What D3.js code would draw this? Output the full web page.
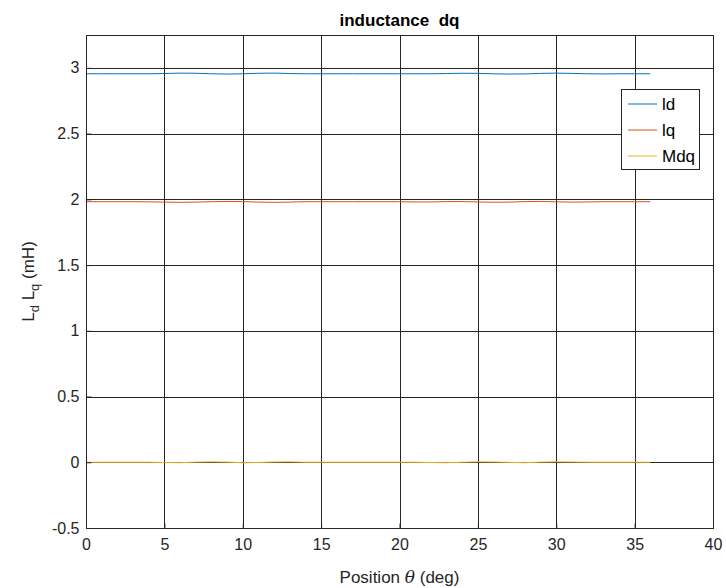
<!DOCTYPE html>
<html><head><meta charset="utf-8">
<script src="https://cdn.jsdelivr.net/npm/d3@7"></script>
<style>body{margin:0;background:#fff}svg{display:block}</style>
</head><body>
<svg id="c" width="726" height="588"></svg>
<script>
const positions = d3.range(0, 37, 1);
const ldValues = [2.955,2.955,2.955,2.955,2.955,2.957,2.960,2.959,2.955,2.953,2.955,2.959,2.960,2.957,2.955,2.955,2.955,2.955,2.955,2.955,2.955,2.955,2.955,2.957,2.959,2.958,2.955,2.953,2.954,2.958,2.960,2.958,2.955,2.954,2.955,2.955,2.955];
const lqValues = [1.982,1.982,1.982,1.982,1.981,1.979,1.977,1.979,1.982,1.984,1.983,1.979,1.977,1.979,1.982,1.982,1.982,1.982,1.982,1.982,1.982,1.980,1.980,1.983,1.983,1.980,1.978,1.979,1.983,1.984,1.981,1.979,1.980,1.982,1.982,1.982,1.982];
const mdqValues = [0,0,0,0,0,-0.002,-0.003,0.001,0.003,0.001,-0.003,-0.002,0.002,0.003,0,0,0,0,0,0,0,0,-0.002,-0.003,0,0.003,0.002,-0.001,-0.003,0.001,0.003,0.002,0,0,0,0,0];
const seriesNames = ["ld","lq","Mdq"];
const seriesColors = ["#0072BD","#D95319","#EDB120"];
const xTicks = [0,5,10,15,20,25,30,35,40];
const yTicks = [-0.5,0,0.5,1,1.5,2,2.5,3];

const svg = d3.select("#c");
const m = {l:86, r:713, t:35, b:528};
const x = d3.scaleLinear().domain([0,40]).range([m.l, m.r]);
const y = d3.scaleLinear().domain([-0.5,3.25]).range([m.b, m.t]);
const font = "'Liberation Sans', Arial, Helvetica, sans-serif";

// grid
const g = svg.append("g");
g.selectAll(".gx").data(xTicks).enter().append("line")
  .attr("x1", d=>Math.round(x(d))+0.5).attr("x2", d=>Math.round(x(d))+0.5)
  .attr("y1", m.t).attr("y2", m.b).attr("stroke", "#262626").attr("stroke-width", 1);
g.selectAll(".gy").data(yTicks).enter().append("line")
  .attr("y1", d=>Math.round(y(d))+0.5).attr("y2", d=>Math.round(y(d))+0.5)
  .attr("x1", m.l).attr("x2", m.r).attr("stroke", "#262626").attr("stroke-width", 1);

// series
const allSeries = [ldValues, lqValues, mdqValues];
const line = d3.line().x((d,i)=>x(positions[i])).y(d=>y(d)).curve(d3.curveMonotoneX);
allSeries.forEach((vals, k) => {
  svg.append("path").datum(vals).attr("d", line).attr("fill","none")
    .attr("stroke", seriesColors[k]).attr("stroke-width", 1);
});

// axes
const xAxis = d3.axisBottom(x).tickValues(xTicks).tickSize(-5).tickPadding(8).tickFormat(d => String(d));
const yAxis = d3.axisLeft(y).tickValues(yTicks).tickSize(-5).tickPadding(7).tickFormat(d => String(d));
const gx = svg.append("g").attr("transform", `translate(0,${m.b+0.5})`).call(xAxis);
const gy = svg.append("g").attr("transform", `translate(${m.l+0.5},0)`).call(yAxis);
[gx, gy].forEach(a => {
  a.selectAll("text").attr("font-family", font).attr("font-size", 16).attr("fill", "#262626");
  a.selectAll("line").attr("stroke", "#262626");
  a.select(".domain").remove();
});
gx.selectAll("text").attr("dy", "0.85em");
// box
svg.append("rect").attr("x", m.l+0.5).attr("y", m.t+0.5).attr("width", m.r-m.l).attr("height", m.b-m.t)
  .attr("fill","none").attr("stroke","#262626").attr("stroke-width",1);

// title
svg.append("text").attr("x", (m.l+m.r)/2).attr("y", 26).attr("text-anchor","middle")
  .attr("font-family", font).attr("font-size", 17).attr("font-weight","bold").attr("fill","#000")
  .attr("xml:space","preserve").style("white-space","pre").text("inductance  dq");

// x label
const xl = svg.append("text").attr("x", (m.l+m.r)/2).attr("y", 583).attr("text-anchor","middle")
  .attr("font-family", font).attr("font-size", 17).attr("fill","#262626");
xl.append("tspan").text("Position ");
xl.append("tspan").attr("font-family","'DejaVu Serif', 'Liberation Serif', serif").attr("font-style","italic").text("θ");
xl.append("tspan").text(" (deg)");

// y label
const yl = svg.append("text").attr("transform", `translate(34,${(m.t+m.b)/2}) rotate(-90)`).attr("text-anchor","middle")
  .attr("font-family", font).attr("font-size", 17).attr("fill","#262626");
yl.append("tspan").text("L");
yl.append("tspan").attr("font-size", 13).attr("dy", 5).text("d");
yl.append("tspan").attr("dy", -5).text(" L");
yl.append("tspan").attr("font-size", 13).attr("dy", 5).text("q");
yl.append("tspan").attr("dy", -5).text(" (mH)");

// legend
const lg = svg.append("g");
lg.append("rect").attr("x", 621.5).attr("y", 89.5).attr("width", 78).attr("height", 80)
  .attr("fill","#fff").attr("stroke","#262626").attr("stroke-width", 1);
seriesNames.forEach((n,k) => {
  const yy = 104 + k*26;
  lg.append("line").attr("x1", 628).attr("x2", 657).attr("y1", yy).attr("y2", yy)
    .attr("stroke", seriesColors[k]).attr("stroke-width", 1);
  lg.append("text").attr("x", 662).attr("y", yy).attr("dy","0.35em")
    .attr("font-family", font).attr("font-size", 17).attr("fill","#000").text(n);
});
</script>
</body></html>
